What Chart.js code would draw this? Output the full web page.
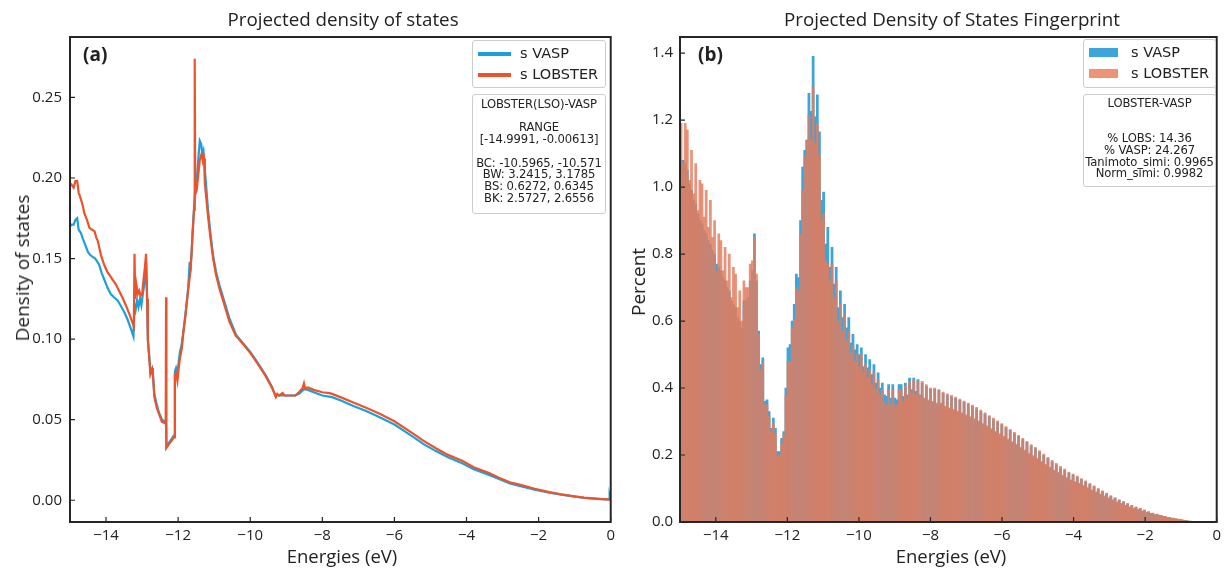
<!DOCTYPE html>
<html>
<head>
<meta charset="utf-8">
<script src="https://cdn.jsdelivr.net/npm/chart.js@4.4.0/dist/chart.umd.min.js"></script>
<style>
body{margin:0;background:#fff;width:1226px;height:570px;overflow:hidden;position:relative;font-family:'Open Sans',sans-serif;color:#222}
canvas{position:absolute;top:0}
.t{position:absolute;white-space:nowrap}
.title{font-size:18.8px;top:6px;transform:translateX(-50%)}
.xl{font-size:18.5px;top:543px;transform:translateX(-50%)}
.yl{font-size:19px;transform:translate(-50%,-50%) rotate(-90deg)}
.tag{font-weight:700;font-size:19px;top:41px}
.box{position:absolute;border:1px solid #ccc;border-radius:3px;background:rgba(255,255,255,.85);font-family:'DejaVu Sans',sans-serif;color:#222;box-sizing:border-box}
.leg div{height:21px;line-height:21px;font-size:14.5px;position:relative;padding-left:47px}
.leg span{position:absolute;left:5px}
.stats{font-size:11.6px;line-height:11.7px;text-align:center;letter-spacing:-0.1px}
</style>
</head>
<body>
<canvas id="dos" width="620" height="570" style="left:0"></canvas>
<canvas id="fp" width="606" height="570" style="left:620px"></canvas>

<div class="t title" style="left:343px">Projected density of states</div>
<div class="t title" style="left:952px">Projected Density of States Fingerprint</div>
<div class="t xl" style="left:342px">Energies (eV)</div>
<div class="t xl" style="left:951px">Energies (eV)</div>
<div class="t yl" style="left:22px;top:268px">Density of states</div>
<div class="t yl" style="left:638px;top:282px">Percent</div>
<div class="t tag" style="left:83px">(a)</div>
<div class="t tag" style="left:698px">(b)</div>

<div class="box leg" style="left:472px;top:40px;width:134px;height:48px;padding-top:2px">
  <div><span style="top:9px;width:33px;height:3.5px;background:rgb(28,160,220)"></span>s VASP</div>
  <div><span style="top:9px;width:33px;height:3.5px;background:rgb(234,84,44)"></span>s LOBSTER</div>
</div>
<div class="box stats" style="left:472px;top:94px;width:134px;height:120px;padding-top:4px">
LOBSTER(LSO)-VASP<br>&nbsp;<br>RANGE<br>[-14.9991, -0.00613]<br>&nbsp;<br>BC: -10.5965, -10.571<br>BW: 3.2415, 3.1785<br>BS: 0.6272, 0.6345<br>BK: 2.5727, 2.6556
</div>

<div class="box leg" style="left:1083px;top:39px;width:133px;height:49px;padding-top:2px">
  <div><span style="top:6px;width:29px;height:9px;background:rgb(60,165,220)"></span>s VASP</div>
  <div><span style="top:6px;width:29px;height:9px;background:rgb(238,148,118)"></span>s LOBSTER</div>
</div>
<div class="box stats" style="left:1083px;top:94px;width:133px;height:93px;padding-top:3px">
LOBSTER-VASP<br>&nbsp;<br>&nbsp;<br>% LOBS: 14.36<br>% VASP: 24.267<br>Tanimoto_simi: 0.9965<br>Norm_simi: 0.9982
</div>

<script>
// ---- panel (a): projected DOS ----
const vaspE = [-14.999,-14.96,-14.9,-14.85,-14.8,-14.76,-14.7,-14.64,-14.57,-14.5,-14.43,-14.37,-14.3,-14.24,-14.19,-14.12,-14.05,-13.96,-13.87,-13.78,-13.68,-13.6,-13.5,-13.4,-13.32,-13.24,-13.21,-13.18,-13.14,-13.1,-13.06,-13.02,-12.98,-12.93,-12.89,-12.86,-12.84,-12.8,-12.77,-12.72,-12.7,-12.66,-12.6,-12.54,-12.45,-12.38,-12.34,-12.325,-12.25,-12.18,-12.13,-12.11,-12.09,-12.06,-12.02,-11.98,-11.95,-11.9,-11.86,-11.8,-11.72,-11.68,-11.66,-11.63,-11.6,-11.56,-11.53,-11.48,-11.44,-11.4,-11.36,-11.33,-11.3,-11.27,-11.24,-11.17,-11.1,-11.03,-10.95,-10.85,-10.7,-10.58,-10.4,-10.34,-10.2,-10.0,-9.8,-9.57,-9.4,-9.29,-9.25,-9.2,-9.1,-9.0,-8.9,-8.75,-8.65,-8.55,-8.5,-8.4,-8.24,-8.0,-7.73,-7.5,-7.14,-6.8,-6.41,-6.0,-5.49,-5.2,-4.85,-4.5,-4.12,-3.8,-3.39,-3.1,-2.8,-2.5,-2.11,-1.7,-1.38,-1.0,-0.74,-0.4,-0.12,-0.04,-0.03,-0.006];
const vaspDos = [0.170,0.171,0.171,0.174,0.175,0.168,0.166,0.162,0.158,0.154,0.152,0.151,0.150,0.148,0.146,0.141,0.137,0.132,0.128,0.126,0.124,0.121,0.117,0.112,0.107,0.1017,0.121,0.118,0.124,0.120,0.125,0.121,0.128,0.135,0.148,0.124,0.100,0.089,0.080,0.082,0.078,0.066,0.060,0.055,0.050,0.049,0.049,0.033,0.036,0.038,0.040,0.040,0.080,0.082,0.078,0.087,0.092,0.097,0.104,0.115,0.132,0.148,0.142,0.153,0.166,0.181,0.192,0.200,0.212,0.223,0.221,0.215,0.217,0.208,0.200,0.180,0.165,0.152,0.142,0.133,0.122,0.113,0.103,0.1012,0.0975,0.092,0.0855,0.0775,0.0705,0.0645,0.0655,0.065,0.065,0.065,0.065,0.065,0.066,0.068,0.069,0.0685,0.067,0.065,0.064,0.062,0.0585,0.0555,0.0515,0.047,0.0395,0.035,0.0305,0.0265,0.023,0.0193,0.0158,0.0132,0.0105,0.0088,0.0066,0.0047,0.0035,0.0022,0.0015,0.0009,0.0005,0.0005,0.0028,0.0005];

const lobsE = [-14.999,-14.96,-14.9,-14.85,-14.8,-14.76,-14.73,-14.66,-14.6,-14.53,-14.46,-14.4,-14.32,-14.27,-14.23,-14.14,-14.05,-13.96,-13.85,-13.73,-13.64,-13.55,-13.45,-13.36,-13.28,-13.23,-13.21,-13.19,-13.16,-13.12,-13.08,-13.04,-13.0,-12.96,-12.92,-12.89,-12.86,-12.84,-12.8,-12.77,-12.72,-12.7,-12.66,-12.6,-12.54,-12.45,-12.38,-12.345,-12.335,-12.325,-12.25,-12.18,-12.13,-12.11,-12.09,-12.06,-12.02,-11.98,-11.95,-11.9,-11.86,-11.8,-11.72,-11.66,-11.63,-11.6,-11.56,-11.545,-11.535,-11.525,-11.49,-11.45,-11.4,-11.35,-11.31,-11.28,-11.26,-11.2,-11.17,-11.1,-11.03,-10.95,-10.85,-10.7,-10.58,-10.4,-10.34,-10.2,-10.0,-9.8,-9.57,-9.4,-9.29,-9.25,-9.2,-9.1,-9.05,-8.9,-8.75,-8.65,-8.55,-8.51,-8.48,-8.4,-8.24,-8.0,-7.8,-7.73,-7.5,-7.14,-6.8,-6.41,-6.0,-5.49,-5.2,-4.85,-4.5,-4.12,-3.8,-3.39,-3.1,-2.8,-2.5,-2.11,-1.7,-1.38,-1.0,-0.74,-0.4,-0.12,-0.006];
const lobsDos = [0.195,0.196,0.194,0.198,0.198,0.191,0.189,0.184,0.178,0.174,0.169,0.168,0.167,0.163,0.161,0.152,0.146,0.1415,0.138,0.134,0.130,0.126,0.121,0.116,0.111,0.108,0.153,0.125,0.134,0.128,0.130,0.127,0.128,0.137,0.145,0.153,0.125,0.099,0.088,0.078,0.081,0.078,0.064,0.058,0.054,0.0486,0.048,0.0477,0.126,0.0325,0.035,0.037,0.0386,0.039,0.078,0.079,0.074,0.083,0.088,0.094,0.103,0.114,0.131,0.142,0.152,0.165,0.180,0.1905,0.274,0.190,0.192,0.200,0.211,0.215,0.210,0.212,0.197,0.183,0.176,0.162,0.150,0.140,0.131,0.120,0.111,0.102,0.1007,0.097,0.0915,0.085,0.077,0.070,0.064,0.066,0.065,0.0665,0.065,0.065,0.065,0.067,0.0695,0.0725,0.0695,0.070,0.0685,0.067,0.0665,0.066,0.064,0.0607,0.0575,0.0537,0.049,0.0415,0.037,0.0323,0.028,0.0245,0.0205,0.017,0.014,0.0112,0.0095,0.0071,0.005,0.0037,0.0024,0.0016,0.001,0.0006,0.0004];

const dosXTicks = [-14, -12, -10, -8, -6, -4, -2, 0];
const dosYTicks = [0, 0.05, 0.10, 0.15, 0.20, 0.25];

// ---- panel (b): fingerprint histogram, 256 bins over [-15, 0] ----
const binStart = -15, binCount = 256, binWidth = 15 / 256;
const vaspPct = [
1.08,1.08,1.07,1.05,1.01,0.99,0.96,0.95,0.92,0.90,0.89,0.87,0.86,0.84,0.83,0.81,0.80,0.77,0.76,0.75,
0.73,0.72,0.70,0.69,0.66,0.65,0.64,0.61,0.60,0.58,0.66,0.66,0.67,0.72,0.75,0.86,0.72,
0.57,0.47,0.49,0.36,0.365,0.33,0.28,0.31,0.28,0.21,0.21,0.25,0.27,0.40,0.52,0.53,0.60,0.65,0.74,0.73,0.90,1.06,1.11,1.14,1.28,
1.226,1.39,1.21,1.275,1.165,
0.96,0.985,0.83,0.88,0.76,0.82,0.71,0.76,0.64,0.69,0.61,0.65,0.58,0.61,0.534,0.56,0.514,0.53,0.50,0.52,
0.464,0.50,0.46,0.485,0.44,0.47,0.415,0.445,0.40,0.415,0.38,0.375,0.41,0.37,0.41,0.37,0.365,0.41,0.41,0.375,
0.415,0.38,0.43,0.395,0.43,0.39,0.425,0.38,0.415,0.368,0.405,0.362,0.397,0.357,0.397,0.352,0.392,0.352,
0.384,0.342,0.379,0.337,0.374,0.333,0.369,0.327,0.363,0.322,0.357,0.316,0.351,0.311,0.345,0.305,0.338,0.298,0.330,0.290,
0.322,0.283,0.314,0.275,0.306,0.267,0.298,0.260,0.290,0.252,0.281,0.244,0.273,0.236,0.264,0.229,0.255,0.220,0.246,0.211,
0.237,0.202,0.227,0.194,0.219,0.186,0.209,0.177,0.199,0.168,0.189,0.160,0.180,0.152,0.171,0.145,0.162,0.137,0.155,0.130,
0.146,0.123,0.140,0.118,0.134,0.113,0.127,0.107,0.120,0.101,0.113,0.094,0.106,0.088,0.098,0.082,0.091,0.076,0.084,0.070,
0.077,0.065,0.071,0.059,0.065,0.054,0.060,0.049,0.054,0.044,0.049,0.040,0.044,0.036,0.040,0.032,0.035,0.028,0.030,0.025,
0.026,0.021,0.023,0.020,0.019,0.016,0.016,0.013,0.013,0.011,0.011,0.009,0.008,0.007,0.006,0.005,0.004,0.003,0.002,0.002,
0.001,0.001,0.0004,0.0003,0.0002,0.0001,0,0,0,0,0];
const lobsPct = [
1.19,1.07,1.19,1.17,1.02,1.11,0.98,1.07,0.93,1.02,1.01,0.91,0.99,0.88,0.96,0.85,0.90,0.75,0.86,0.84,
0.75,0.82,0.72,0.80,0.67,0.76,0.74,0.64,0.69,0.60,0.72,0.70,0.70,0.77,0.78,0.85,0.74,
0.56,0.455,0.48,0.35,0.35,0.315,0.27,0.295,0.265,0.195,0.20,0.235,0.26,0.375,0.48,0.48,0.58,0.605,0.70,0.69,0.86,0.99,1.09,1.14,1.215,
1.14,1.30,1.13,1.19,1.095,
0.90,0.92,0.78,0.77,0.72,0.77,0.67,0.72,0.60,0.65,0.57,0.62,0.544,0.57,0.504,0.524,0.48,0.50,0.464,0.50,
0.445,0.47,0.43,0.455,0.41,0.445,0.395,0.425,0.38,0.395,0.36,0.35,0.395,0.35,0.395,0.35,0.35,0.395,0.395,0.36,
0.405,0.37,0.42,0.385,0.425,0.38,0.42,0.375,0.42,0.37,0.41,0.365,0.40,0.36,0.40,0.355,0.395,0.355,
0.388,0.346,0.383,0.341,0.378,0.337,0.373,0.331,0.367,0.326,0.361,0.320,0.355,0.315,0.349,0.309,0.342,0.302,0.334,0.294,
0.326,0.287,0.318,0.279,0.310,0.271,0.302,0.264,0.294,0.256,0.285,0.248,0.277,0.240,0.268,0.233,0.259,0.224,0.250,0.215,
0.241,0.206,0.231,0.198,0.223,0.190,0.213,0.181,0.203,0.172,0.193,0.164,0.184,0.155,0.175,0.148,0.166,0.140,0.158,0.133,
0.149,0.126,0.143,0.121,0.137,0.116,0.130,0.109,0.123,0.103,0.115,0.096,0.108,0.090,0.100,0.084,0.093,0.078,0.086,0.072,
0.079,0.066,0.073,0.060,0.067,0.055,0.061,0.050,0.055,0.045,0.050,0.041,0.045,0.037,0.041,0.033,0.036,0.029,0.031,0.026,
0.027,0.022,0.024,0.021,0.020,0.017,0.017,0.014,0.014,0.012,0.012,0.010,0.009,0.008,0.007,0.005,0.005,0.003,0.003,0.002,
0.001,0.001,0.0005,0.0004,0.0003,0.0002,0,0,0,0,0];

const fpXTicks = [-14, -12, -10, -8, -6, -4, -2, 0];
const fpYTicks = [0, 0.2, 0.4, 0.6, 0.8, 1.0, 1.2, 1.4];

Chart.defaults.font.family = "'Open Sans', sans-serif";
Chart.defaults.font.size = 15;
Chart.defaults.color = '#222';

function minus(v) { return v < 0 ? '\u2212' + Math.abs(v) : String(v); }

// full black frame + matplotlib style inward ticks
const framePlugin = {
  id: 'frame',
  afterDraw(chart) {
    const ctx = chart.ctx, a = chart.chartArea, sx = chart.scales.x, sy = chart.scales.y;
    ctx.save();
    ctx.strokeStyle = '#262626';
    ctx.lineWidth = 1.2;
    ctx.beginPath();
    sx.ticks.forEach(t => {
      const p = sx.getPixelForValue(t.value);
      ctx.moveTo(p, a.bottom); ctx.lineTo(p, a.bottom - 5);
    });
    sy.ticks.forEach(t => {
      const p = sy.getPixelForValue(t.value);
      ctx.moveTo(a.left, p); ctx.lineTo(a.left + 5, p);
    });
    ctx.stroke();
    ctx.lineWidth = 2;
    ctx.strokeRect(a.left, a.top, a.right - a.left, a.bottom - a.top);
    ctx.restore();
  }
};

function axes(xTicks, yTicks, yMin, yMax, yFmt, yWidth, yPad) {
  return {
    x: {
      type: 'linear', min: -15, max: 0, offset: false,
      grid: {display: false, drawTicks: false}, border: {display: false},
      afterBuildTicks: s => { s.ticks = xTicks.map(v => ({value: v})); },
      afterFit: s => { s.height = 30; },
      ticks: {padding: 5, maxRotation: 0, autoSkip: false, callback: v => minus(v)}
    },
    y: {
      min: yMin, max: yMax,
      grid: {display: false, drawTicks: false}, border: {display: false},
      afterBuildTicks: s => { s.ticks = yTicks.map(v => ({value: v})); },
      afterFit: s => { s.width = yWidth; },
      ticks: {padding: yPad, autoSkip: false, callback: v => yFmt(v)}
    }
  };
}

new Chart(document.getElementById('dos'), {
  type: 'line',
  data: {
    datasets: [
      {label: 's VASP', data: vaspE.map((e, i) => ({x: e, y: vaspDos[i]})),
       borderColor: 'rgb(28,160,220)', borderWidth: 2.2, pointRadius: 0, tension: 0, order: 1},
      {label: 's LOBSTER', data: lobsE.map((e, i) => ({x: e, y: lobsDos[i]})),
       borderColor: 'rgb(234,84,44)', borderWidth: 2.2, pointRadius: 0, tension: 0, order: 0}
    ]
  },
  options: {
    responsive: false, animation: false,
    layout: {padding: {left: 0, top: 37, right: 7, bottom: 18}},
    plugins: {legend: {display: false}, tooltip: {enabled: false}},
    scales: axes(dosXTicks, dosYTicks, -0.0135, 0.2875, v => v.toFixed(2), 70, 8)
  },
  plugins: [framePlugin]
});

const centers = [];
for (let i = 0; i < binCount; i++) centers.push(binStart + binWidth * (i + 0.5));

// both bar sets fill their bin; translucent orange sits over the blue
new Chart(document.getElementById('fp'), {
  type: 'bar',
  data: {
    datasets: [
      {label: 's VASP', data: centers.map((c, i) => ({x: c, y: vaspPct[i]})),
       backgroundColor: 'rgb(60,165,220)', order: 1},
      {label: 's LOBSTER', data: centers.map((c, i) => ({x: c, y: lobsPct[i]})),
       backgroundColor: 'rgba(226,124,94,0.82)', order: 0}
    ]
  },
  options: {
    responsive: false, animation: false,
    datasets: {bar: {grouped: false, barPercentage: 1.0, categoryPercentage: 1, borderWidth: 0}},
    layout: {padding: {left: 0, top: 37, right: 5, bottom: 18}},
    plugins: {legend: {display: false}, tooltip: {enabled: false}},
    scales: axes(fpXTicks, fpYTicks, 0, 1.448, v => v.toFixed(1), 60, 7)
  },
  plugins: [framePlugin]
});
</script>
</body>
</html>
